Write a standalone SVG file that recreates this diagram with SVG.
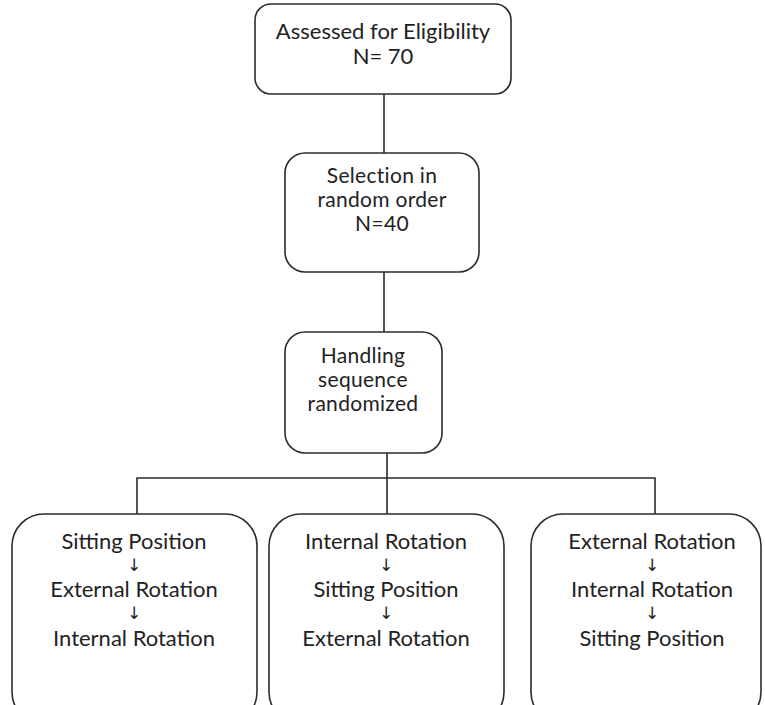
<svg xmlns="http://www.w3.org/2000/svg" width="765" height="705" viewBox="0 0 765 705">
<style>
.box{fill:#fff;stroke:#2b2b2b;stroke-width:1.6}
.ln{fill:none;stroke:#2b2b2b;stroke-width:1.6}
text{font-family:"Lato","DejaVu Sans",sans-serif;font-size:22px;fill:#222;text-anchor:middle}
.sm{font-size:21px;letter-spacing:0.3px}
.ar{font-family:"DejaVu Sans",sans-serif;font-size:17px}
</style>
<rect width="765" height="705" fill="#fff"/>
<g id="connectors">
<path class="ln" d="M384 94V153M384 272V332M387 453V514M137 514V478H655V514"/>
</g>
<g id="n1">
<rect class="box" x="255" y="4" width="256" height="90" rx="16"/>
<text x="383" y="39">Assessed for Eligibility</text>
<text x="383" y="64">N= 70</text>
</g>
<g id="n2">
<rect class="box" x="285" y="153" width="194" height="119" rx="20"/>
<text class="sm" x="382" y="183">Selection in</text>
<text class="sm" x="382" y="207">random order</text>
<text class="sm" x="382" y="231">N=40</text>
</g>
<g id="n3">
<rect class="box" x="285" y="332" width="157" height="121" rx="20"/>
<text class="sm" x="363" y="363">Handling</text>
<text class="sm" x="363" y="387">sequence</text>
<text class="sm" x="363" y="411">randomized</text>
</g>
<g id="n4">
<rect class="box" x="12" y="514" width="245" height="210" rx="32"/>
<text x="134" y="549">Sitting Position</text>
<text class="ar" x="134" y="571">↓</text>
<text x="134" y="597">External Rotation</text>
<text class="ar" x="134" y="619">↓</text>
<text x="134" y="646">Internal Rotation</text>
</g>
<g id="n5">
<rect class="box" x="269" y="514" width="235" height="210" rx="32"/>
<text x="386" y="549">Internal Rotation</text>
<text class="ar" x="386" y="571">↓</text>
<text x="386" y="597">Sitting Position</text>
<text class="ar" x="386" y="619">↓</text>
<text x="386" y="646">External Rotation</text>
</g>
<g id="n6">
<rect class="box" x="531" y="514" width="230" height="210" rx="32"/>
<text x="652" y="549">External Rotation</text>
<text class="ar" x="652" y="571">↓</text>
<text x="652" y="597">Internal Rotation</text>
<text class="ar" x="652" y="619">↓</text>
<text x="652" y="646">Sitting Position</text>
</g>
</svg>
